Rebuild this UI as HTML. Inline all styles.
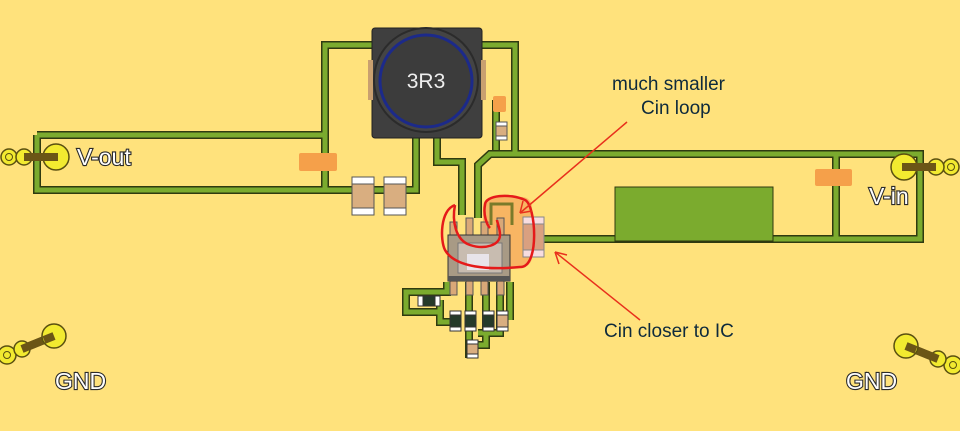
<!DOCTYPE html>
<html><head><meta charset="utf-8"><style>
html,body{margin:0;padding:0;background:#FFE27C;}
svg{display:block}
.lbl{font-family:"Liberation Sans",sans-serif;font-size:23px;fill:#fff;stroke:#2a2a2a;stroke-width:2.2px;paint-order:stroke;}
.note{font-family:"Liberation Sans",sans-serif;font-size:19px;fill:#0e2a3c;}
</style></head><body>
<svg width="960" height="431" viewBox="0 0 960 431" xmlns="http://www.w3.org/2000/svg">
<rect width="960" height="431" fill="#FFE27C"/>
<g fill="none" stroke="#2f3a10" stroke-width="8" stroke-linejoin="miter">
 <path d="M37,135 H325 V45 H372"/>
 <path d="M37,135 V190 H416 V138"/>
 <path d="M325,135 V190"/>
 <path d="M482,45 H515 V154 H920 V239 H540"/>
 <path d="M836,154 V239"/>
 <path d="M437,138 V162 H462 V215 M437,162 H462"/>
 <path d="M478,218 V165 L490,154 H515"/>
 <path d="M496,100 V150"/>
 <path d="M447,282 V292 H406 V312 H440 V322 H455 M440,312 V300"/>
 <path d="M469,282 V358 M486,282 V345 H476 M500,282 V333 H478 M510,282 V320"/>
</g>
<g fill="none" stroke="#7bab2e" stroke-width="5" stroke-linejoin="miter">
 <path d="M37,135 H325 V45 H372"/>
 <path d="M37,135 V190 H416 V138"/>
 <path d="M325,135 V190"/>
 <path d="M482,45 H515 V154 H920 V239 H540"/>
 <path d="M836,154 V239"/>
 <path d="M437,138 V162 H462 V215 M437,162 H462"/>
 <path d="M478,218 V165 L490,154 H515"/>
 <path d="M496,100 V150"/>
 <path d="M447,282 V292 H406 V312 H440 V322 H455 M440,312 V300"/>
 <path d="M469,282 V358 M486,282 V345 H476 M500,282 V333 H478 M510,282 V320"/>
</g>
<rect x="615" y="187" width="158" height="54" fill="#7bab2e" stroke="#2f3a10" stroke-width="1"/>
<rect x="299" y="153" width="38" height="18" rx="2" fill="#F5A04A"/>
<rect x="815" y="169" width="37" height="17" rx="2" fill="#F5A04A"/>
<rect x="493" y="96" width="13" height="16" rx="2" fill="#F5A04A"/>
<g stroke="#555" stroke-width="1">
 <rect x="352" y="177" width="22" height="38" fill="#fff"/><rect x="352" y="184" width="22" height="24" fill="#D9AE80"/>
 <rect x="384" y="177" width="22" height="38" fill="#fff"/><rect x="384" y="184" width="22" height="24" fill="#D9AE80"/>
 <rect x="496" y="122" width="11" height="18" fill="#fff"/><rect x="496" y="126" width="11" height="10" fill="#D9AE80"/>
</g>
<rect x="372" y="28" width="110" height="110" rx="3" fill="#3f3f3f" stroke="#222"/>
<rect x="368" y="60" width="5" height="40" fill="#c9a070"/><rect x="481" y="60" width="5" height="40" fill="#c9a070"/>
<circle cx="426" cy="80" r="52" fill="#444" stroke="#2b2b2b" stroke-width="2"/>
<circle cx="426" cy="81" r="46" fill="#3c3c3c" stroke="#1c2a8a" stroke-width="3"/>
<text x="426" y="88" text-anchor="middle" font-family="Liberation Sans,sans-serif" font-size="21" fill="#eee">3R3</text>
<rect x="483" y="197" width="49" height="70" rx="10" fill="#F7B060" opacity="0.9"/>
<path d="M491,225 V204 H512 V225" fill="none" stroke="#7a7a2a" stroke-width="3"/>
<g stroke="#555" stroke-width="1">
 <rect x="450" y="222" width="7" height="14" fill="#d9a878"/><rect x="466" y="218" width="7" height="18" fill="#d9a878"/>
 <rect x="481" y="222" width="7" height="14" fill="#d9a878"/><rect x="497" y="218" width="7" height="18" fill="#d9a878"/>
 <rect x="450" y="280" width="7" height="15" fill="#d9a878"/><rect x="466" y="280" width="7" height="15" fill="#d9a878"/>
 <rect x="481" y="280" width="7" height="15" fill="#d9a878"/><rect x="497" y="280" width="7" height="15" fill="#d9a878"/>
</g>
<rect x="448" y="235" width="62" height="46" fill="#a89a85" stroke="#333"/>
<rect x="458" y="243" width="44" height="30" fill="#c8bcb0" stroke="#777"/>
<rect x="467" y="254" width="22" height="16" fill="#e8e4ea"/>
<rect x="448" y="276" width="62" height="5" fill="#555"/>
<rect x="523" y="217" width="21" height="40" fill="#f7dde0" stroke="#888"/>
<rect x="523" y="224" width="21" height="26" fill="#d9a080" stroke="#888"/>
<g stroke="#333" stroke-width="1">
 <rect x="418" y="296" width="22" height="10" fill="#fff"/><rect x="423" y="296" width="12" height="10" fill="#253a2a"/>
 <rect x="450" y="311" width="11" height="20" fill="#fff"/><rect x="450" y="315" width="11" height="12" fill="#253a2a"/>
 <rect x="465" y="311" width="11" height="20" fill="#fff"/><rect x="465" y="315" width="11" height="12" fill="#253a2a"/>
 <rect x="483" y="311" width="11" height="20" fill="#fff"/><rect x="483" y="315" width="11" height="12" fill="#253a2a"/>
 <rect x="497" y="311" width="11" height="20" fill="#fff"/><rect x="497" y="315" width="11" height="12" fill="#D9AE80"/>
 <rect x="467" y="340" width="11" height="18" fill="#fff"/><rect x="467" y="344" width="11" height="10" fill="#D9AE80"/>
</g>
<path d="M455,205 C440,210 440,240 445,250 C455,268 490,270 520,267 C540,268 536,205 525,200 C510,193 485,195 485,205 C483,215 487,225 490,228" fill="none" stroke="#e51a1a" stroke-width="2.5"/>
<path d="M455,205 C452,220 455,240 470,245 C485,250 500,245 500,235 C500,228 497,222 497,220" fill="none" stroke="#e51a1a" stroke-width="2.5"/>
<g stroke="#e8301c" stroke-width="1.5" fill="none">
 <path d="M627,122 L520,213"/><path d="M520,213 L532,211 M520,213 L523,201"/>
 <path d="M640,320 L555,252"/><path d="M555,252 L559,264 M555,252 L567,255"/>
</g>
<g>
 <circle cx="9" cy="157" r="8" fill="#f2ea30" stroke="#5a5010" stroke-width="1.5"/><circle cx="9" cy="157" r="3.5" fill="none" stroke="#5a5010"/>
 <circle cx="24" cy="157" r="8" fill="#f2ea30" stroke="#5a5010" stroke-width="1.5"/>
 <rect x="24" y="153" width="32" height="8" fill="#6b5516"/>
 <circle cx="56" cy="157" r="13" fill="#f2ea30" stroke="#5a5010" stroke-width="1.5"/><rect x="40" y="153" width="18" height="8" fill="#6b5516"/>
</g>
<g transform="translate(960,10) scale(-1,1)">
 <circle cx="9" cy="157" r="8" fill="#f2ea30" stroke="#5a5010" stroke-width="1.5"/><circle cx="9" cy="157" r="3.5" fill="none" stroke="#5a5010"/>
 <circle cx="24" cy="157" r="8" fill="#f2ea30" stroke="#5a5010" stroke-width="1.5"/>
 <rect x="24" y="153" width="32" height="8" fill="#6b5516"/>
 <circle cx="56" cy="157" r="13" fill="#f2ea30" stroke="#5a5010" stroke-width="1.5"/><rect x="40" y="153" width="18" height="8" fill="#6b5516"/>
</g>
<g>
 <path d="M7,355 L54,336" stroke="#6b5516" stroke-width="8"/>
 <circle cx="7" cy="355" r="9" fill="#f2ea30" stroke="#5a5010" stroke-width="1.5"/><circle cx="7" cy="355" r="3.5" fill="none" stroke="#5a5010"/>
 <circle cx="22" cy="349" r="8" fill="#f2ea30" stroke="#5a5010" stroke-width="1.5"/>
 <path d="M22,349 L54,336" stroke="#6b5516" stroke-width="8"/>
 <circle cx="54" cy="336" r="12" fill="#f2ea30" stroke="#5a5010" stroke-width="1.5"/>
 <path d="M44,340 L54,336" stroke="#6b5516" stroke-width="8"/>
</g>
<g transform="translate(960,0) scale(-1,1)">
 <path d="M7,365 L54,346" stroke="#6b5516" stroke-width="8"/>
 <circle cx="7" cy="365" r="9" fill="#f2ea30" stroke="#5a5010" stroke-width="1.5"/><circle cx="7" cy="365" r="3.5" fill="none" stroke="#5a5010"/>
 <circle cx="22" cy="359" r="8" fill="#f2ea30" stroke="#5a5010" stroke-width="1.5"/>
 <path d="M22,359 L54,346" stroke="#6b5516" stroke-width="8"/>
 <circle cx="54" cy="346" r="12" fill="#f2ea30" stroke="#5a5010" stroke-width="1.5"/>
 <path d="M44,350 L54,346" stroke="#6b5516" stroke-width="8"/>
</g>
<text class="lbl" x="77" y="165">V-out</text>
<text class="lbl" x="869" y="204">V-in</text>
<text class="lbl" x="55" y="389">GND</text>
<text class="lbl" x="846" y="389">GND</text>
<text class="note" x="612" y="90">much smaller</text>
<text class="note" x="641" y="114">Cin loop</text>
<text class="note" x="604" y="337">Cin closer to IC</text>
</svg>
</body></html>
